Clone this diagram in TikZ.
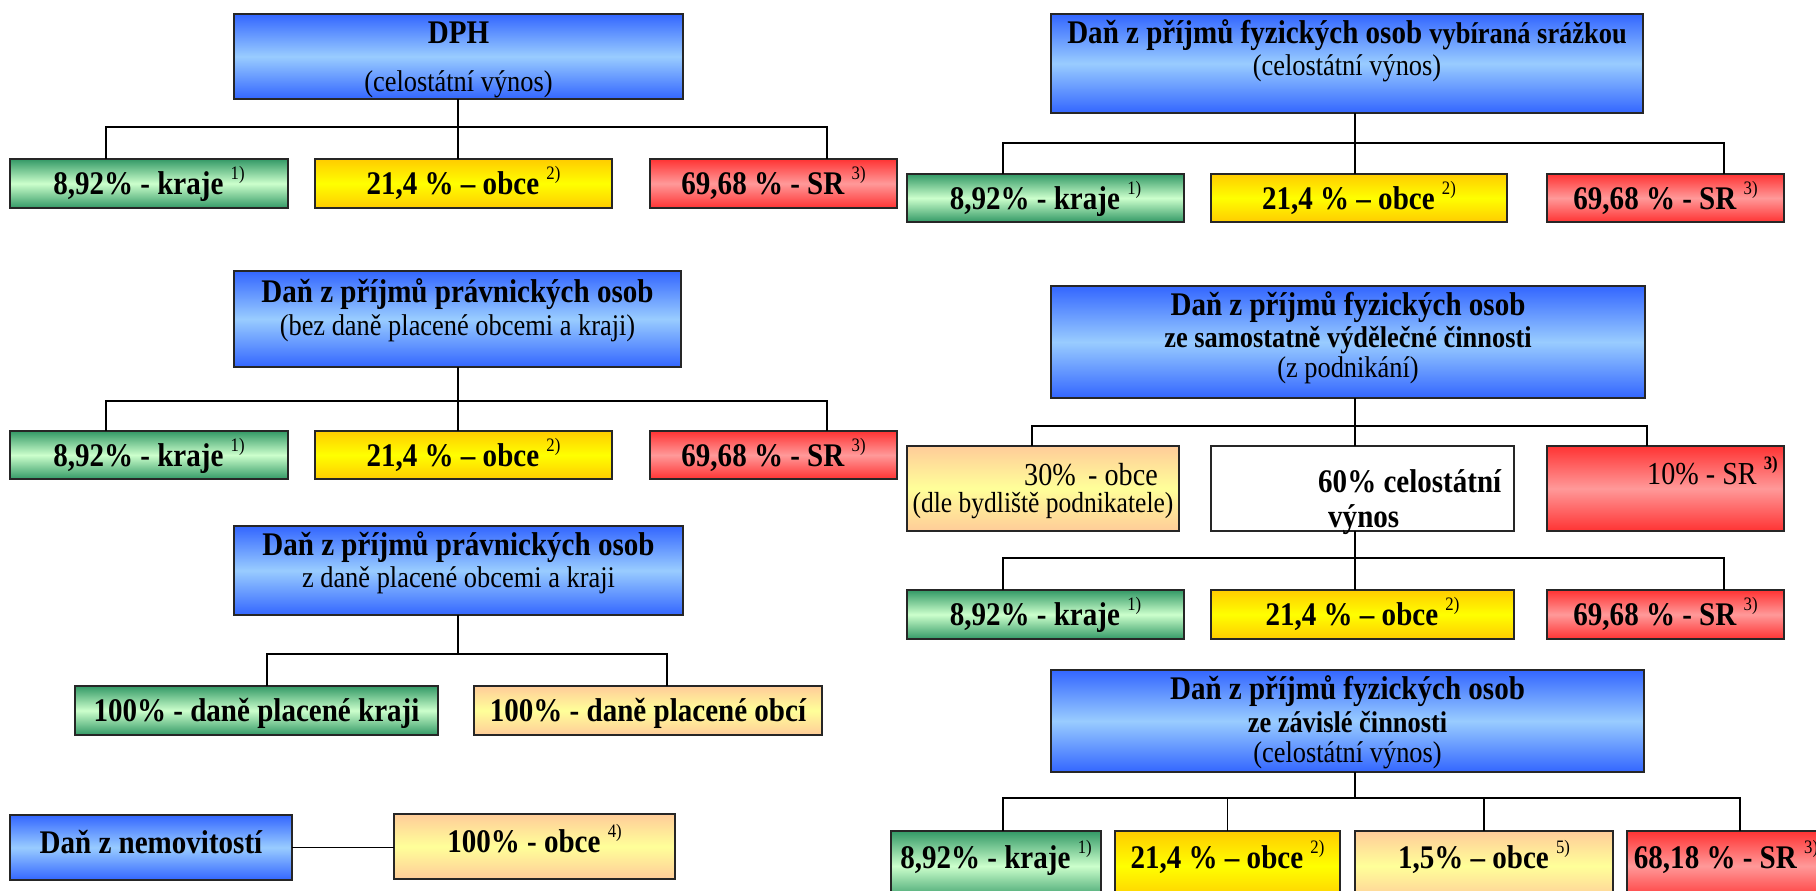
\documentclass[tikz,border=0pt]{standalone}
\usepackage{fontspec}
\setmainfont{Liberation Serif}[FakeStretch=0.88]

% fill colours (dark edge / light centre of each mirrored gradient)
\definecolor{hdrD}{HTML}{3366FF}
\definecolor{hdrL}{HTML}{99CCFF}
\definecolor{grnD}{HTML}{339966}
\definecolor{grnL}{HTML}{CCFFCC}
\definecolor{ylwD}{HTML}{FFCC00}
\definecolor{ylwL}{HTML}{FFFF00}
\definecolor{redD}{HTML}{FF3333}
\definecolor{redL}{HTML}{FF9999}
\definecolor{orgD}{HTML}{FFCC99}
\definecolor{orgL}{HTML}{FFFF99}

% type sizes
\newcommand\txtB{\fontsize{33}{36}\selectfont\bfseries}
\newcommand\txtBs{\fontsize{30}{33}\selectfont\bfseries}
\newcommand\txtR{\fontsize{30}{33}\selectfont\mdseries}
\newcommand\txtRl{\fontsize{32}{35}\selectfont\mdseries}
\newcommand\txtRs{\fontsize{29}{32}\selectfont\mdseries}
\newcommand\fnote[1]{\raisebox{0.45em}{\fontsize{19}{19}\selectfont\mdseries #1}}
\newcommand\fnoteB[1]{\raisebox{0.45em}{\fontsize{19}{19}\selectfont\bfseries #1}}

\tikzset{
  box/.style={rectangle, draw=black!85, line width=1.8pt, inner sep=0pt, outer sep=0pt},
  hdrbox/.style={box, top color=hdrD, bottom color=hdrD, middle color=hdrL},
  grnbox/.style={box, top color=grnD, bottom color=grnD, middle color=grnL},
  ylwbox/.style={box, top color=ylwD, bottom color=ylwD, middle color=ylwL},
  redbox/.style={box, top color=redD, bottom color=redD, middle color=redL},
  orgbox/.style={box, top color=orgD, bottom color=orgD, middle color=orgL},
  whtbox/.style={box, fill=white},
  cell/.style={font=\txtB, text height=22pt, text depth=0pt},
  tx/.style={inner sep=0pt, anchor=base},
  wire/.style={draw=black, line width=1.6pt}
}

\begin{document}
\begin{tikzpicture}[x=1pt, y=-1pt]
\useasboundingbox (0,0) rectangle (1816,891);
\fill[white] (0,0) rectangle (1816,891);

% ---------------- DPH ----------------
\node[hdrbox, minimum width=449pt, minimum height=85pt] (dph) at (458.5,56.5) {};
\node[tx, font=\txtB] (dphA) at (458.5,44) {DPH};
\node[tx, font=\txtR] (dphB) at (458.5,92) {(celostátní výnos)};
\node[grnbox, cell, minimum width=278pt, minimum height=49pt] (k1) at (149,183.5) {8,92\% - kraje \fnote{1)}};
\node[ylwbox, cell, minimum width=297pt, minimum height=49pt] (o1) at (463.5,183.5) {21,4 \% – obce \fnote{2)}};
\node[redbox, cell, minimum width=247pt, minimum height=49pt] (s1) at (773.5,183.5) {69,68 \% - SR \fnote{3)}};
\coordinate (j1) at (458,127);
\coordinate (j1l) at (106,127);
\coordinate (j1r) at (827,127);
\draw[wire] (dph.south -| j1) -- (j1) -- (j1 |- o1.north);
\draw[wire] (j1l |- k1.north) -- (j1l) -- (j1r) -- (j1r |- s1.north);

% ------- DzP FO vybíraná srážkou -------
\node[hdrbox, minimum width=592pt, minimum height=99pt] (fs) at (1347,63.5) {};
\node[tx, font=\txtB] (fsA) at (1347,44) {Daň z příjmů fyzických osob {\txtBs vybíraná srážkou}};
\node[tx, font=\txtR] (fsB) at (1347,75) {(celostátní výnos)};
\node[grnbox, cell, minimum width=277pt, minimum height=48pt] (k2) at (1045.5,198) {8,92\% - kraje \fnote{1)}};
\node[ylwbox, cell, minimum width=296pt, minimum height=48pt] (o2) at (1359,198) {21,4 \% – obce \fnote{2)}};
\node[redbox, cell, minimum width=237pt, minimum height=48pt] (s2) at (1665.5,198) {69,68 \% - SR \fnote{3)}};
\coordinate (j2) at (1355,143);
\coordinate (j2l) at (1003,143);
\coordinate (j2r) at (1724,143);
\draw[wire] (fs.south -| j2) -- (j2) -- (j2 |- o2.north);
\draw[wire] (j2l |- k2.north) -- (j2l) -- (j2r) -- (j2r |- s2.north);

% ------- DzP PO (bez daně placené obcemi a kraji) -------
\node[hdrbox, minimum width=447pt, minimum height=96pt] (pp) at (457.5,319) {};
\node[tx, font=\txtB] (ppA) at (457.5,302) {Daň z příjmů právnických osob};
\node[tx, font=\txtR] (ppB) at (457.5,335) {(bez daně placené obcemi a kraji)};
\node[grnbox, cell, minimum width=278pt, minimum height=48pt] (k3) at (149,455) {8,92\% - kraje \fnote{1)}};
\node[ylwbox, cell, minimum width=297pt, minimum height=48pt] (o3) at (463.5,455) {21,4 \% – obce \fnote{2)}};
\node[redbox, cell, minimum width=247pt, minimum height=48pt] (s3) at (773.5,455) {69,68 \% - SR \fnote{3)}};
\coordinate (j3) at (458,401);
\coordinate (j3l) at (106,401);
\coordinate (j3r) at (827,401);
\draw[wire] (pp.south -| j3) -- (j3) -- (j3 |- o3.north);
\draw[wire] (j3l |- k3.north) -- (j3l) -- (j3r) -- (j3r |- s3.north);

% ------- DzP FO ze samostatně výdělečné činnosti -------
\node[hdrbox, minimum width=594pt, minimum height=112pt] (sv) at (1348,342) {};
\node[tx, font=\txtB] (svA) at (1348,315) {Daň z příjmů fyzických osob};
\node[tx, font=\txtBs] (svB) at (1348,347) {ze samostatně výdělečné činnosti};
\node[tx, font=\txtR] (svC) at (1348,377) {(z podnikání)};
\node[orgbox, minimum width=272pt, minimum height=85pt] (ob30) at (1043,488.5) {};
\node[whtbox, minimum width=303pt, minimum height=85pt] (cel60) at (1362.5,488.5) {};
\node[redbox, minimum width=237pt, minimum height=85pt] (sr10) at (1665.5,488.5) {};
\node[tx, anchor=base west, font=\txtRl] (ob30A) at (1024,485) {30\%\, - obce};
\node[tx, font=\txtRs] (ob30B) at (1043,512) {(dle bydliště podnikatele)};
\node[tx, anchor=base west, font=\txtB] (cel60A) at (1318,492) {60\% celostátní};
\node[tx, anchor=base west, font=\txtB] (cel60B) at (1328,527) {výnos};
\node[tx, anchor=base west, font=\txtRl] (sr10A) at (1647,484) {10\% - SR \fnoteB{3)}};
\coordinate (j4) at (1355,426);
\coordinate (j4l) at (1032,426);
\coordinate (j4r) at (1647,426);
\draw[wire] (sv.south -| j4) -- (j4) -- (j4 |- cel60.north);
\draw[wire] (j4l |- ob30.north) -- (j4l) -- (j4r) -- (j4r |- sr10.north);
\node[grnbox, cell, minimum width=277pt, minimum height=49pt] (k4) at (1045.5,614.5) {8,92\% - kraje \fnote{1)}};
\node[ylwbox, cell, minimum width=303pt, minimum height=49pt] (o4) at (1362.5,614.5) {21,4 \% – obce \fnote{2)}};
\node[redbox, cell, minimum width=237pt, minimum height=49pt] (s4) at (1665.5,614.5) {69,68 \% - SR \fnote{3)}};
\coordinate (j5) at (1355,558);
\coordinate (j5l) at (1003,558);
\coordinate (j5r) at (1724,558);
\draw[wire] (cel60.south -| j5) -- (j5) -- (j5 |- o4.north);
\draw[wire] (j5l |- k4.north) -- (j5l) -- (j5r) -- (j5r |- s4.north);

% ------- DzP PO z daně placené obcemi a kraji -------
\node[hdrbox, minimum width=449pt, minimum height=89pt] (pz) at (458.5,570.5) {};
\node[tx, font=\txtB] (pzA) at (458.5,555) {Daň z příjmů právnických osob};
\node[tx, font=\txtR] (pzB) at (458.5,587) {z daně placené obcemi a kraji};
\node[grnbox, cell, minimum width=363pt, minimum height=49pt] (kz) at (256.5,710.5) {100\% - daně placené kraji};
\node[orgbox, cell, minimum width=348pt, minimum height=49pt] (oz) at (648,710.5) {100\% - daně placené obcí};
\coordinate (j6) at (458,654);
\coordinate (j6l) at (267,654);
\coordinate (j6r) at (667,654);
\draw[wire] (pz.south -| j6) -- (j6);
\draw[wire] (j6l |- kz.north) -- (j6l) -- (j6r) -- (j6r |- oz.north);

% ------- Daň z nemovitostí -------
\node[hdrbox, cell, text height=11pt, minimum width=282pt, minimum height=65pt] (nem) at (151,847.5) {Daň z nemovitostí};
\node[orgbox, cell, text height=11pt, minimum width=281pt, minimum height=65pt] (ob4) at (534.5,846.5) {100\% - obce \fnote{4)}};
\draw[wire] (nem.east) -- (nem.east -| ob4.west);

% ------- DzP FO ze závislé činnosti -------
\node[hdrbox, minimum width=593pt, minimum height=102pt] (zc) at (1347.5,721) {};
\node[tx, font=\txtB] (zcA) at (1347.5,699) {Daň z příjmů fyzických osob};
\node[tx, font=\txtBs] (zcB) at (1347.5,732) {ze závislé činnosti};
\node[tx, font=\txtR] (zcC) at (1347.5,762) {(celostátní výnos)};
\node[grnbox, cell, text height=4pt, minimum width=210pt, minimum height=70pt] (k7) at (996,866) {8,92\% - kraje \fnote{1)}};
\node[ylwbox, cell, text height=4pt, minimum width=225pt, minimum height=70pt] (o7) at (1227.5,866) {21,4 \% – obce \fnote{2)}};
\node[orgbox, cell, text height=4pt, minimum width=258pt, minimum height=70pt] (ob7) at (1484,866) {1,5\% – obce \fnote{5)}};
\node[redbox, cell, text height=4pt, minimum width=198pt, minimum height=70pt] (s7) at (1726,866) {68,18 \% - SR \fnote{3)}};
\coordinate (j7) at (1355,798);
\coordinate (j7l) at (1003,798);
\coordinate (j7r) at (1740,798);
\draw[wire] (zc.south -| j7) -- (j7);
\draw[wire] (j7l |- k7.north) -- (j7l) -- (j7r) -- (j7r |- s7.north);
\draw[wire] (o7.north |- j7) -- (o7.north);
\draw[wire] (ob7.north |- j7) -- (ob7.north);
\end{tikzpicture}
\end{document}
